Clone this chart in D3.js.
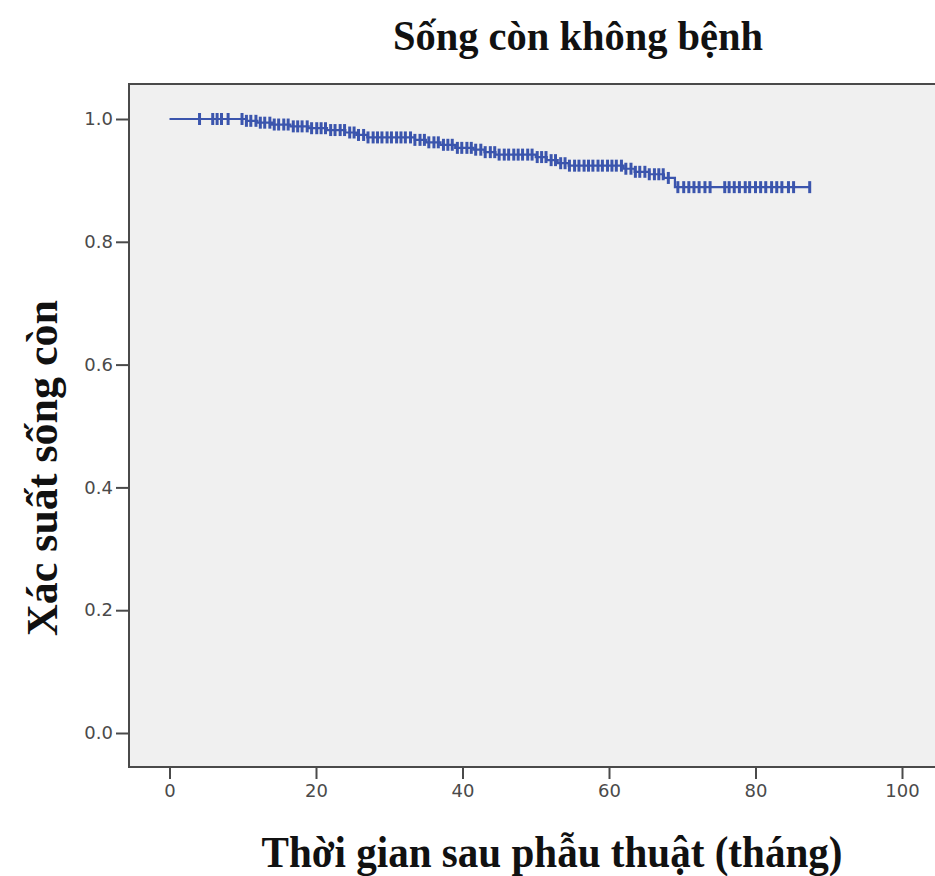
<!DOCTYPE html>
<html lang="vi">
<head>
  <meta charset="UTF-8" />
  <title>Sống còn không bệnh</title>
  <script src="https://cdn.jsdelivr.net/npm/d3@7"></script>
  <style>
    body {
      margin: 0;
      background: #fff;
    }
    svg {
      display: block;
    }
    .tick-label {
      font-family: "DejaVu Sans", Arial, sans-serif;
      font-size: 18px;
      fill: #4a4a4a;
    }
    .title, .axis-title {
      font-family: "Liberation Serif", "Times New Roman", serif;
      font-weight: bold;
      fill: #111;
    }
  </style>
</head>
<body>
  <div id="chart"></div>

  <script>
    // Kaplan-Meier steps: time of event (months) and survival after it
    const eventTimes = [10.5, 12.0, 14.0, 16.5, 19.0, 21.5, 24.0, 25.5, 27.0, 33.5, 35.0, 37.0,
      39.0, 41.5, 43.0, 44.5, 50.0, 51.5, 53.0, 54.5, 62.0, 63.5, 65.5, 67.5, 69.0];
    const survival = [0.997, 0.994, 0.991, 0.988, 0.985, 0.982, 0.978, 0.974, 0.970, 0.966, 0.962, 0.958,
      0.953, 0.950, 0.946, 0.942, 0.938, 0.933, 0.928, 0.924, 0.919, 0.914, 0.910, 0.904, 0.889];
    const lastTime = 87.5;

    // censored observations (months)
    const censorTimes = [4.1, 5.9, 6.5, 7.1, 8.0,
      9.9, 10.5, 11.1, 11.8, 12.4, 13.0, 13.7, 14.3, 14.9, 15.6, 16.2, 16.9, 17.5, 18.1, 18.8,
      19.4, 20.1, 20.7, 21.3, 22.0, 22.6, 23.3, 23.9, 24.6, 25.2, 25.8, 26.5, 27.1, 27.8, 28.4,
      29.0, 29.7, 30.3, 31.0, 31.6, 32.2, 32.9, 33.5, 34.2, 34.8, 35.4, 36.1, 36.7, 37.4, 38.0,
      38.6, 39.3, 39.9, 40.6, 41.2, 41.8, 42.5, 43.1, 43.8, 44.4, 45.0, 45.7, 46.3, 47.0, 47.6,
      48.2, 48.9, 49.5, 50.2, 50.8, 51.4, 52.1, 52.7, 53.4, 54.0, 54.6, 55.3, 55.9, 56.6, 57.2,
      57.8, 58.5, 59.1, 59.8, 60.4, 61.0, 61.7, 62.3, 63.0, 63.6, 64.2, 64.9, 65.5, 66.2, 66.8,
      67.4, 68.1,
      69.4, 70.2, 70.9, 71.6, 72.3, 73.1, 73.8, 75.8, 76.4, 77.1, 77.8, 78.6, 79.2, 80.0, 80.7,
      81.4, 82.2, 82.9, 83.6, 84.5, 85.2, 87.4];

    const xTicks = [0, 20, 40, 60, 80, 100];
    const yTicks = [0, 0.2, 0.4, 0.6, 0.8, 1.0];

    const width = 935;
    const height = 876;
    const frame = { left: 129, top: 84, right: 945, bottom: 767 };

    const svg = d3.select("#chart")
      .append("svg")
      .attr("width", width)
      .attr("height", height);

    const x = d3.scaleLinear().domain([0, 100]).range([169.5, 902]);
    const y = d3.scaleLinear().domain([0, 1]).range([733, 119]);

    // plot background + frame
    svg.append("rect")
      .attr("x", frame.left)
      .attr("y", frame.top)
      .attr("width", frame.right - frame.left)
      .attr("height", frame.bottom - frame.top)
      .attr("fill", "#f0f0f0")
      .attr("stroke", "#4a4a4a")
      .attr("stroke-width", 2);

    // y axis
    const yAxis = svg.append("g")
      .attr("transform", `translate(${frame.left},0)`)
      .call(d3.axisLeft(y).tickValues(yTicks).tickFormat(d3.format(".1f")).tickSize(13).tickPadding(3));
    yAxis.select(".domain").remove();
    yAxis.selectAll(".tick line").attr("stroke", "#4a4a4a").attr("stroke-width", 2);
    yAxis.selectAll(".tick text").attr("class", "tick-label").attr("font-family", null).attr("font-size", null);

    // x axis
    const xAxis = svg.append("g")
      .attr("transform", `translate(0,${frame.bottom})`)
      .call(d3.axisBottom(x).tickValues(xTicks).tickFormat(d3.format("d")).tickSize(12).tickPadding(5));
    xAxis.select(".domain").remove();
    xAxis.selectAll(".tick line").attr("stroke", "#4a4a4a").attr("stroke-width", 2);
    xAxis.selectAll(".tick text").attr("class", "tick-label").attr("font-family", null).attr("font-size", null);

    // survival curve
    const pts = [[0, 1]];
    eventTimes.forEach((t, i) => pts.push([t, survival[i]]));
    pts.push([lastTime, survival[survival.length - 1]]);

    const blue = "#3b55ad";

    svg.append("path")
      .datum(pts)
      .attr("fill", "none")
      .attr("stroke", blue)
      .attr("stroke-width", 2.2)
      .attr("d", d3.line().x(d => x(d[0])).y(d => y(d[1])).curve(d3.curveStepAfter));

    const survAt = t => {
      const i = d3.bisectRight(eventTimes, t);
      return i === 0 ? 1 : survival[i - 1];
    };

    // censor marks
    svg.append("g")
      .selectAll("line")
      .data(censorTimes)
      .enter()
      .append("line")
      .attr("x1", d => x(d))
      .attr("x2", d => x(d))
      .attr("y1", d => y(survAt(d)) - 6)
      .attr("y2", d => y(survAt(d)) + 6)
      .attr("stroke", blue)
      .attr("stroke-width", 3);

    // titles
    svg.append("text")
      .attr("class", "title")
      .attr("x", 578)
      .attr("y", 50)
      .attr("text-anchor", "middle")
      .attr("font-size", 43)
      .attr("textLength", 370)
      .attr("lengthAdjust", "spacingAndGlyphs")
      .text("Sống còn không bệnh");

    svg.append("text")
      .attr("class", "axis-title")
      .attr("x", 552)
      .attr("y", 867)
      .attr("text-anchor", "middle")
      .attr("font-size", 44)
      .attr("textLength", 581)
      .attr("lengthAdjust", "spacingAndGlyphs")
      .text("Thời gian sau phẫu thuật (tháng)");

    svg.append("text")
      .attr("class", "axis-title")
      .attr("transform", "translate(57,468) rotate(-90)")
      .attr("text-anchor", "middle")
      .attr("font-size", 44)
      .attr("textLength", 336)
      .attr("lengthAdjust", "spacingAndGlyphs")
      .text("Xác suất sống còn");
  </script>
</body>
</html>
